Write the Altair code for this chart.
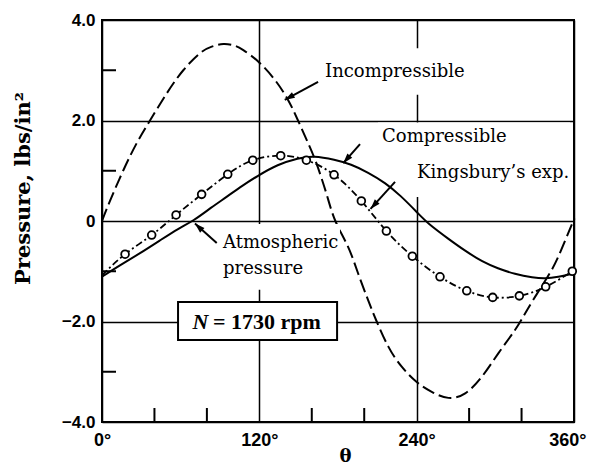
import altair as alt
import pandas as pd

# ---------------- data ----------------
incomp_x = [0, 6.1, 16.3, 26.5, 36.6, 49.4, 62, 74.8, 83.7, 92.6, 101, 107.8, 119.3,
            131.8, 141.9, 149.5, 157.2, 163.5, 171.1, 178, 187.6, 195.3, 202.9, 209.2,
            218.4, 228.6, 239.8, 251.5, 264.2, 277, 289.7, 302.4, 315, 322.7, 330.3,
            339.2, 348, 358.3, 360]
incomp_y = [0, 0.40, 1.01, 1.55, 2.0, 2.54, 3.0, 3.34, 3.47, 3.52, 3.49, 3.40, 3.17,
            2.81, 2.41, 2.0, 1.55, 1.15, 0.55, 0.0, -0.51, -1.04, -1.57, -1.98,
            -2.50, -2.90, -3.20, -3.40, -3.52, -3.43, -3.10, -2.63, -2.17, -1.84, -1.51,
            -1.14, -0.71, -0.07, 0.02]

comp_x = [0, 14, 29, 44, 58, 70, 83, 95, 107, 119, 134, 149, 162, 177, 190, 203, 216,
          228, 240, 250, 264, 277, 290, 302, 315, 328, 338, 348, 360]
comp_y = [-1.11, -0.88, -0.64, -0.39, -0.16, 0.02, 0.26, 0.48, 0.70, 0.90, 1.11, 1.24,
          1.28, 1.22, 1.12, 0.96, 0.75, 0.49, 0.18, -0.07, -0.35, -0.59, -0.80, -0.94,
          -1.05, -1.12, -1.14, -1.11, -1.04]

kings_x = [17.6, 37.9, 56.5, 76, 95.9, 115, 136.3, 155.9, 177, 197.8, 216.9, 236.7,
           257.8, 278.2, 298, 318.3, 338.4, 358.7]
kings_y = [-0.66, -0.28, 0.12, 0.53, 0.93, 1.21, 1.30, 1.21, 0.92, 0.40, -0.20, -0.70,
           -1.11, -1.39, -1.52, -1.49, -1.31, -1.00]
kings_line_x = [0] + kings_x
kings_line_y = [-1.08] + kings_y

x_ticks = [0, 120, 240, 360]
y_ticks = [-4, -2, 0, 2, 4]
x_minor = [40, 80, 160, 200, 280, 320]
y_minor = [-3, -1, 1, 3]

# annotations (data coordinates)
label_text = ["Incompressible", "Compressible", "Kingsbury\u2019s exp.", "Atmospheric", "pressure"]
label_x = [170.1, 213.6, 240.3, 92.3, 92.3]
label_y = [2.97, 1.67, 0.96, -0.44, -0.96]

arrow_tail_x = [164.8, 196.8, 223.5, 87.5]
arrow_tail_y = [2.77, 1.53, 0.78, -0.44]
arrow_tip_x = [139.4, 184.0, 204.8, 70.9]
arrow_tip_y = [2.41, 1.15, 0.24, -0.05]
arrow_angle = [241, 221, 222, 313]

# white backgrounds behind labels (hide grid lines as in the original)
bg_x = [166.3, 210.5, 90.0]
bg_x2 = [280.7, 357.0, 181.5]
bg_y = [3.44, 1.96, -0.06]
bg_y2 = [2.51, 0.48, -1.37]

box_x, box_x2, box_y, box_y2 = [58.0], [179.3], [-1.61], [-2.37]
n_text_x = [81.2]
rest_text_x = [84.7]
box_text_y = [-2.01]

# ---------------- chart ----------------
W, H = 472, 402
xs = alt.Scale(domain=[0, 360], nice=False, zero=False)
ys = alt.Scale(domain=[-4, 4], nice=False, zero=False)

df_inc = pd.DataFrame({"x": incomp_x, "y": incomp_y})
df_comp = pd.DataFrame({"x": comp_x, "y": comp_y})
df_kl = pd.DataFrame({"x": kings_line_x, "y": kings_line_y})
df_kp = pd.DataFrame({"x": kings_x, "y": kings_y})

xaxis = alt.Axis(values=x_ticks, grid=True, gridColor="black", gridWidth=1.5, gridOpacity=1,
                 ticks=False, domain=False, labelExpr="datum.value + '\u00b0'",
                 labelFont="Liberation Sans", labelFontWeight="bold", labelFontSize=18,
                 labelColor="black", labelPadding=9, labelFlush=False,
                 labelAlign={"condition": {"test": "datum.value == 360", "value": "right"},
                             "value": "center"},
                 labelOffset={"condition": {"test": "datum.value == 360", "value": 12},
                              "value": 0},
                 title="\u03b8", titleFont="DejaVu Serif", titleFontWeight="bold",
                 titleFontSize=18, titleColor="black", titleX=243, titleY=34,
                 titleBaseline="middle", titleAlign="center")
yaxis = alt.Axis(values=y_ticks, grid=True, gridColor="black", gridWidth=1.5, gridOpacity=1,
                 ticks=False, domain=False,
                 labelExpr="datum.value == 0 ? '0' : replace(format(datum.value, '.1f'), '-', '\u2013')",
                 labelFont="Liberation Sans", labelFontWeight="bold", labelFontSize=17,
                 labelColor="black", labelPadding=7, labelFlush=False,
                 title="Pressure, lbs/in\u00b2", titleFont="DejaVu Serif", titleFontWeight="bold",
                 titleFontSize=21, titleColor="black", titleX=-79, titleY=168,
                 titleBaseline="middle", titleAlign="center", titleAngle=270)

base = alt.Chart(df_inc)

inc = base.mark_line(color="black", strokeWidth=2, strokeDash=[13, 5], interpolate="natural").encode(
    x=alt.X("x:Q", scale=xs, axis=xaxis),
    y=alt.Y("y:Q", scale=ys, axis=yaxis),
)

bg = alt.Chart(pd.DataFrame({"x": bg_x, "x2": bg_x2, "y": bg_y, "y2": bg_y2})).mark_rect(
    fill="white").encode(
    x=alt.X("x:Q", scale=xs), x2="x2:Q", y=alt.Y("y:Q", scale=ys), y2="y2:Q")

comp = alt.Chart(df_comp).mark_line(color="black", strokeWidth=2, interpolate="natural").encode(
    x=alt.X("x:Q", scale=xs), y=alt.Y("y:Q", scale=ys))

kl = alt.Chart(df_kl).mark_line(color="black", strokeWidth=1.8, strokeDash=[7, 3, 2, 3],
                                interpolate="natural").encode(
    x=alt.X("x:Q", scale=xs), y=alt.Y("y:Q", scale=ys))

kp = alt.Chart(df_kp).mark_point(shape="circle", size=60, filled=True, fill="white",
                                 stroke="black", strokeWidth=1.8, opacity=1).encode(
    x=alt.X("x:Q", scale=xs), y=alt.Y("y:Q", scale=ys))

xm = alt.Chart(pd.DataFrame({"x": x_minor})).mark_rule(color="black", strokeWidth=2).encode(
    x=alt.X("x:Q", scale=xs), y=alt.value(H), y2=alt.value(H - 14))
ym = alt.Chart(pd.DataFrame({"y": y_minor})).mark_rule(color="black", strokeWidth=2).encode(
    y=alt.Y("y:Q", scale=ys), x=alt.value(0), x2=alt.value(14))

df_arr = pd.DataFrame({"x": arrow_tail_x, "y": arrow_tail_y, "x2": arrow_tip_x,
                       "y2": arrow_tip_y, "a": arrow_angle})
arr_line = alt.Chart(df_arr).mark_rule(color="black", strokeWidth=2).encode(
    x=alt.X("x:Q", scale=xs), y=alt.Y("y:Q", scale=ys), x2="x2:Q", y2="y2:Q")
arr_head = alt.Chart(df_arr).mark_point(shape="M0,0 L-0.32,1 L0.32,1 Z", filled=True,
                                        color="black", size=400, opacity=1).encode(
    x=alt.X("x2:Q", scale=xs), y=alt.Y("y2:Q", scale=ys),
    angle=alt.Angle("a:Q", scale=None))

labels = alt.Chart(pd.DataFrame({"t": label_text, "x": label_x, "y": label_y})).mark_text(
    align="left", baseline="middle", font="DejaVu Serif", fontSize=18, color="black").encode(
    x=alt.X("x:Q", scale=xs), y=alt.Y("y:Q", scale=ys), text="t:N")

box = alt.Chart(pd.DataFrame({"x": box_x, "x2": box_x2, "y": box_y, "y2": box_y2})).mark_rect(
    fill="white", stroke="black", strokeWidth=2).encode(
    x=alt.X("x:Q", scale=xs), x2="x2:Q", y=alt.Y("y:Q", scale=ys), y2="y2:Q")

n_txt = alt.Chart(pd.DataFrame({"x": n_text_x, "y": box_text_y, "t": ["N"]})).mark_text(
    align="right", baseline="middle", font="Liberation Serif", fontSize=22, fontWeight="bold",
    fontStyle="italic", color="black").encode(
    x=alt.X("x:Q", scale=xs), y=alt.Y("y:Q", scale=ys), text="t:N")
r_txt = alt.Chart(pd.DataFrame({"x": rest_text_x, "y": box_text_y, "t": ["= 1730 rpm"]})).mark_text(
    align="left", baseline="middle", font="Liberation Serif", fontSize=22, fontWeight="bold",
    color="black").encode(
    x=alt.X("x:Q", scale=xs), y=alt.Y("y:Q", scale=ys), text="t:N")

chart = alt.layer(inc, bg, comp, kl, kp, xm, ym, arr_line, arr_head, labels, box, n_txt, r_txt).properties(
    width=W, height=H,
    autosize=alt.AutoSizeParams(type="none"),
    padding={"left": 94, "top": 12, "right": 13, "bottom": 46},
    background="white",
).configure_view(stroke="black", strokeWidth=2)

chart.save("out.html", embed_options={"renderer": "svg", "actions": False})
